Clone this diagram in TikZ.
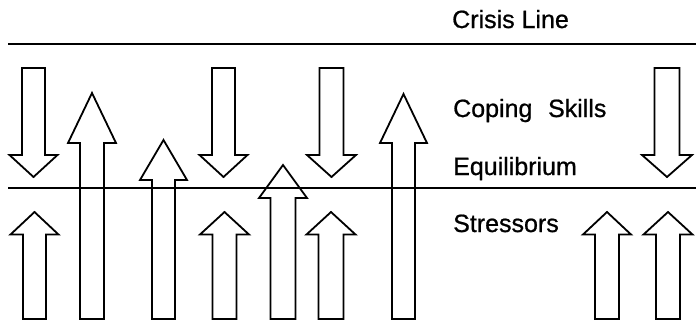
\documentclass[tikz,border=0pt]{standalone}
\usepackage{fontspec}
\setmainfont{Liberation Sans}
\newfontfamily\lblfont{Liberation Sans}[FakeBold=0.8]
\newcommand\UpArr[6]{% cx, tip y, wing y, half shaft, half wing, bottom
  \draw[arrowshape] ({#1-#4},#6) -- ({#1-#4},#3) -- ({#1-#5},#3) -- (#1,#2)
    -- ({#1+#5},#3) -- ({#1+#4},#3) -- ({#1+#4},#6) -- cycle;}
\newcommand\DownArr[6]{% cx, top y, wing y, tip y, half shaft, half wing
  \draw[arrowshape] ({#1-#5},#2) -- ({#1-#5},#3) -- ({#1-#6},#3) -- (#1,#4)
    -- ({#1+#6},#3) -- ({#1+#5},#3) -- ({#1+#5},#2) -- cycle;}
\begin{document}
\begin{tikzpicture}[x=1pt,y=-1pt,
  arrowshape/.style={draw, line width=1.8pt, line join=miter},
  levelline/.style={line width=2.2pt},
  lbl/.style={anchor=base west, inner sep=0pt, font=\lblfont\fontsize{25}{30}\selectfont}]
\useasboundingbox (0,0) rectangle (696,322);
% level lines
\coordinate (cl0) at (8,44);  \coordinate (cl1) at (696,44);
\coordinate (eq0) at (8,188); \coordinate (eq1) at (696,188);
\draw[levelline] (cl0) -- (cl1);
\draw[levelline] (eq0) -- (eq1);
% labels
\node[lbl] (crisis) at (452,28) {Crisis Line};
\node[lbl] (coping) at (453,117) {Coping\hspace{0.35em} Skills};
\node[lbl] (equil) at (453,175) {Equilibrium};
\node[lbl] (stress) at (453,232) {Stressors};
% down arrows (coping skills)
\DownArr{33.5}{68}{155}{177}{11.5}{24}
\DownArr{223.5}{68}{155}{177}{11.5}{24}
\DownArr{331.5}{68}{155}{177}{12}{24.5}
\DownArr{667}{68}{155}{177}{12.5}{25}
% up arrows (stressors)
\UpArr{34.5}{212}{234.5}{11.5}{24}{319}
\UpArr{92}{93}{143}{12}{24}{319}
\UpArr{163.5}{140}{180}{11.5}{23.5}{319}
\UpArr{224.5}{212}{234.5}{12}{24.5}{319}
\UpArr{283}{165}{198}{12.5}{24}{319}
\UpArr{331}{212}{234.5}{12.5}{24.5}{319}
\UpArr{403.5}{94}{143}{11.5}{23.5}{319}
\UpArr{607}{212}{234.5}{12}{24}{319}
\UpArr{668}{212}{234.5}{12}{24.5}{319}
\end{tikzpicture}
\end{document}
